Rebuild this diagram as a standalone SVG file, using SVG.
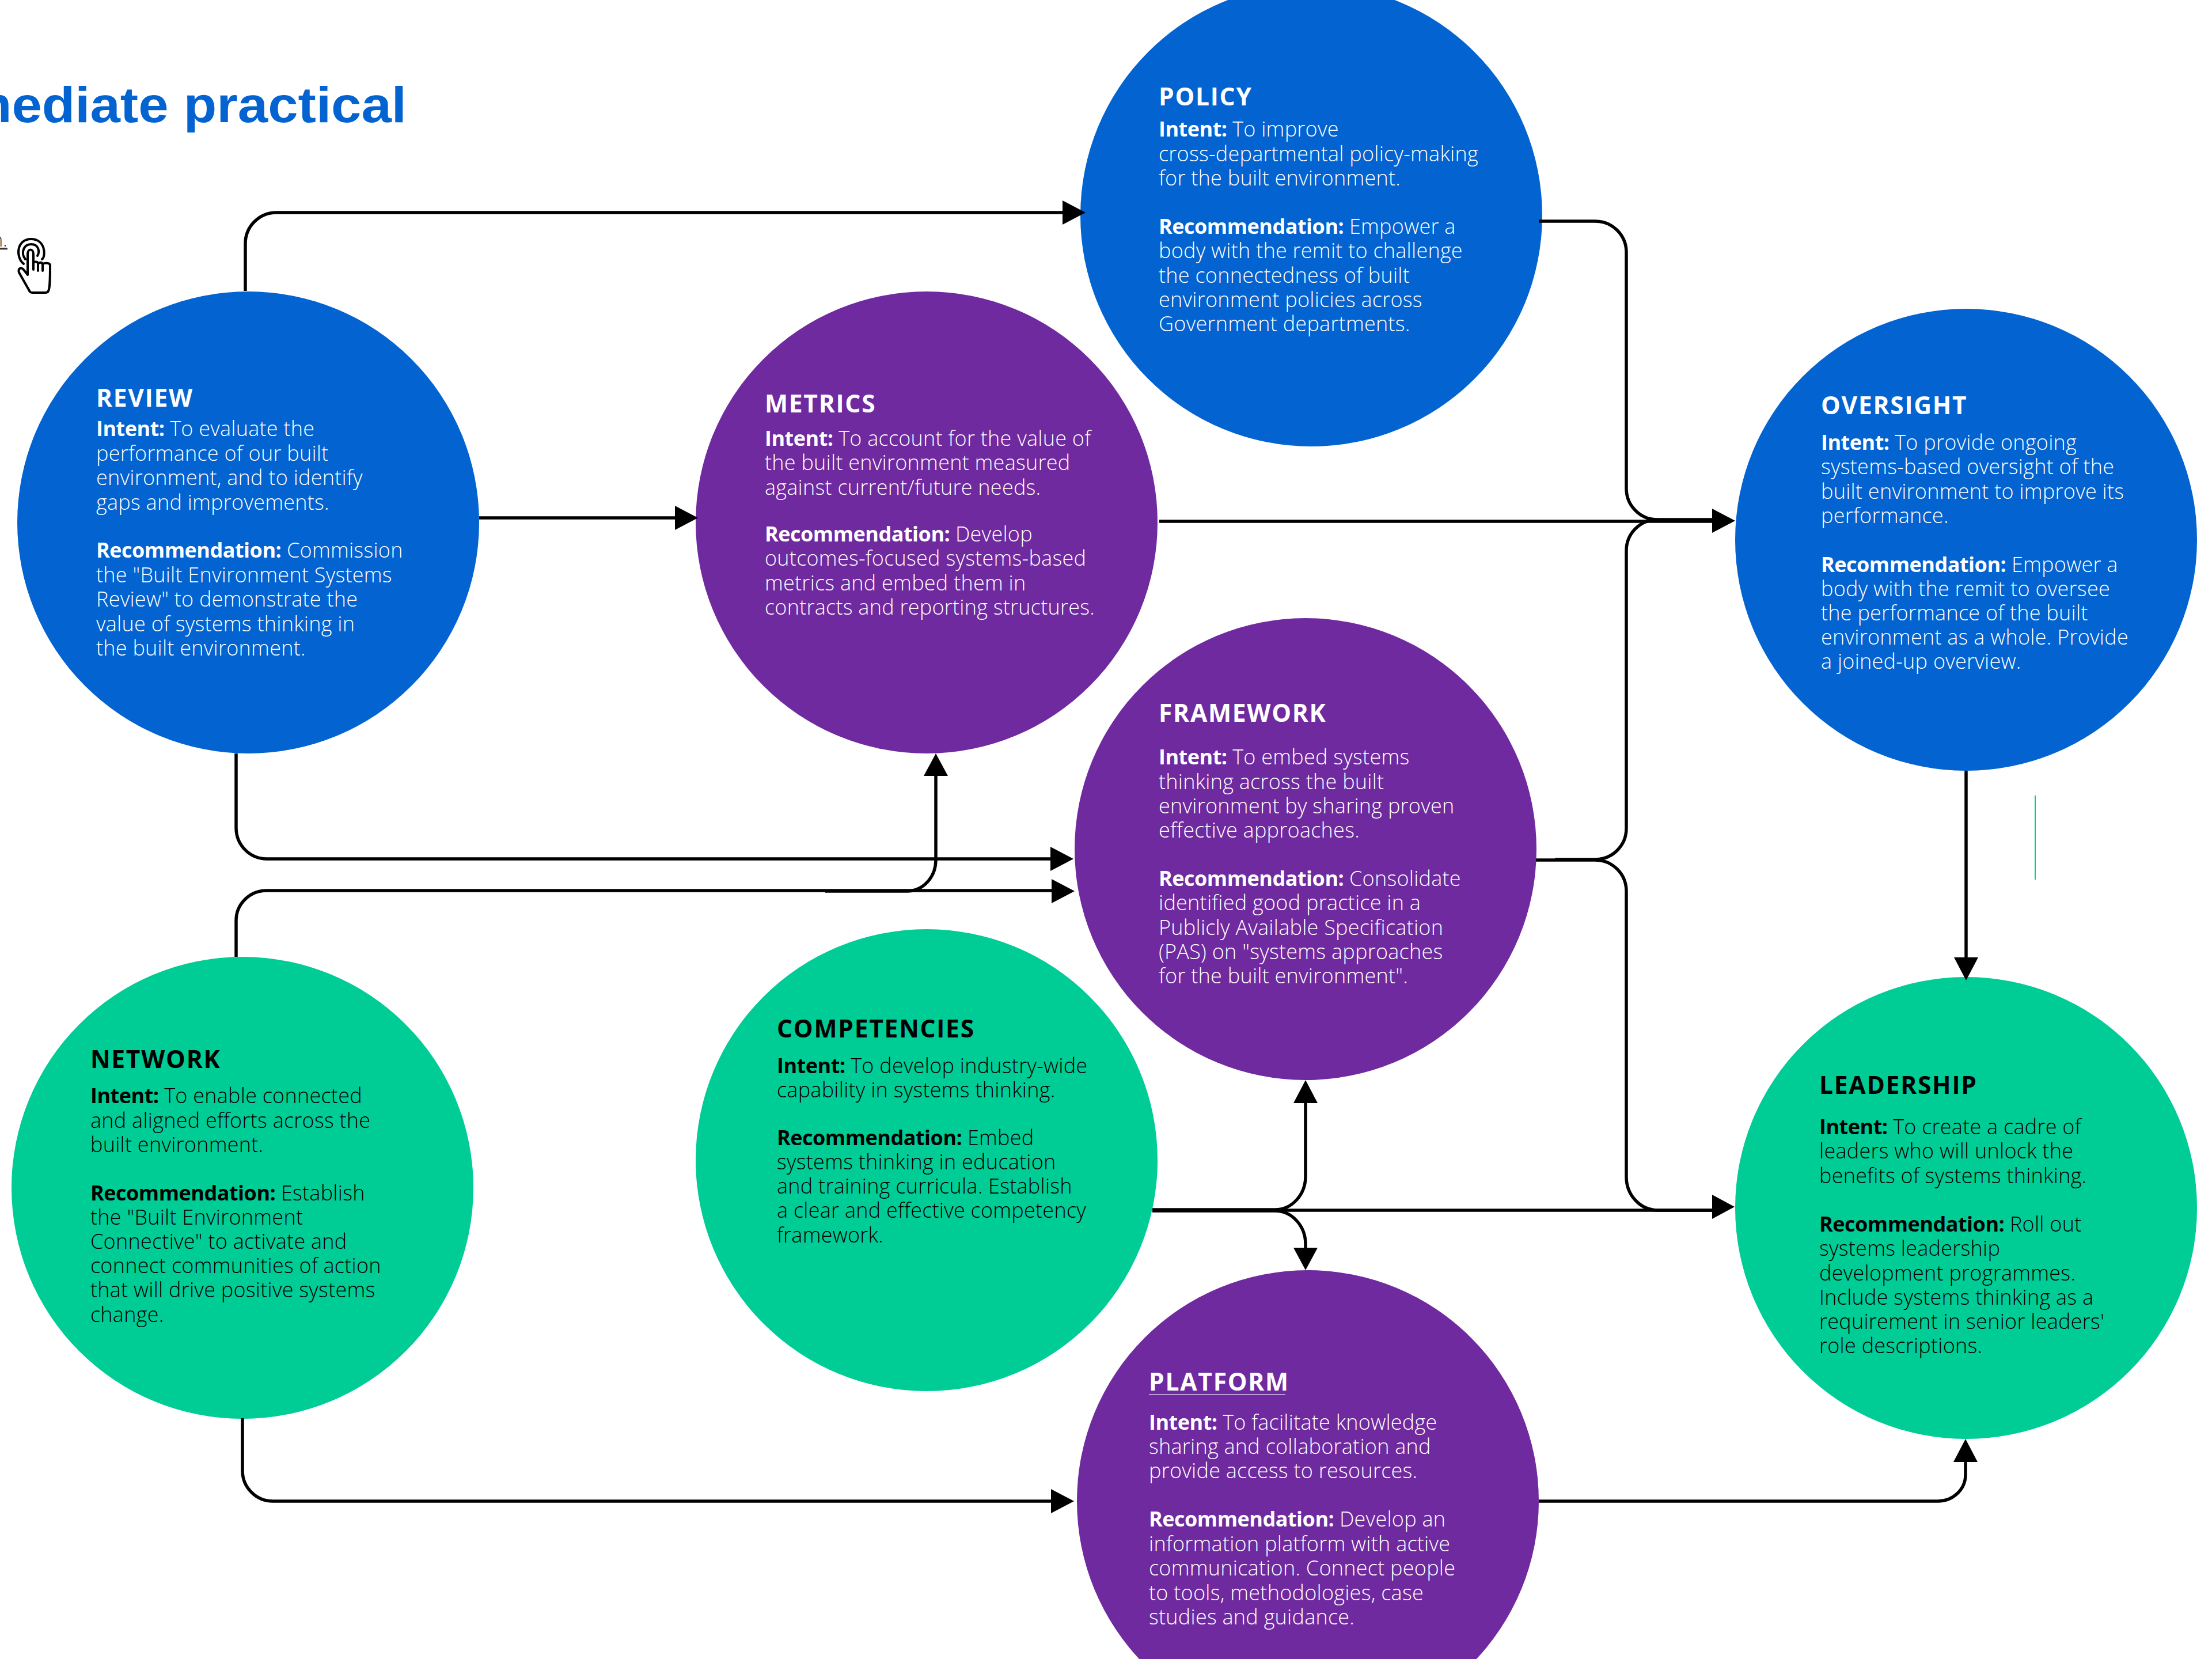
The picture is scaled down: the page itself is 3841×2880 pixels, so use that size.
<svg xmlns="http://www.w3.org/2000/svg" width="3841" height="2880" viewBox="0 0 3841 2880">
<style>
text{font-family:"Open Sans","Liberation Sans",sans-serif;font-size:36px;font-weight:300;letter-spacing:.25px}
.w{fill:#fff;transform:translateY(1px)}.k{fill:#000;transform:translateY(1px)}
.h{font-size:42.5px;font-weight:700;letter-spacing:1.75px}
.b{font-weight:700;letter-spacing:-.5px}
.c{fill:none;stroke:#000;stroke-width:5.5}
.ah{fill:#000}
</style>
<rect width="3841" height="2880" fill="#fff"/>
<text transform="translate(706 212) scale(1.07 1)" text-anchor="end" style="font-family:'Liberation Sans',sans-serif;font-size:88px;font-weight:700;letter-spacing:0" fill="#0263D1">mediate practical</text>
<text x="13" y="428" text-anchor="end" fill="#333" text-decoration="underline" style="font-size:33px;letter-spacing:0">n.</text>
<g id="icon" fill="none" stroke="#000" stroke-linecap="round" stroke-linejoin="round" stroke-width="4">
<path d="M41 458C27 447 28 415 54 415C79 415 80 445 73 450"/>
<path d="M44 450C36 440 40 424 54 424C68 424 69 438 65 444"/>
<path d="M48 477V441C48 431 58 431 58 441V468M58 456C62 453 66 455 66 458V470M66 458C70 454 74 456 74 460V470M74 458C78 456 86 456 87 460C87 480 87 500 84 505C83 508 81 508 79 508H56C53 508 52 507 50 503L33 473C31 466 36 464 40 467L48 477"/>
</g>
<line x1="3534" y1="1381" x2="3534" y2="1527" stroke="#00CC96" stroke-width="2"/>
<g id="review"><circle cx="431" cy="907" r="401" fill="#0263D1"/>
<text class="w h" x="167" y="705">REVIEW</text>
<text class="w" x="167" y="756"><tspan class="b">Intent:</tspan> To evaluate the</text>
<text class="w" x="167" y="799">performance of our built</text>
<text class="w" x="167" y="841">environment, and to identify</text>
<text class="w" x="167" y="884">gaps and improvements.</text>
<text class="w" x="167" y="967"><tspan class="b">Recommendation:</tspan> Commission</text>
<text class="w" x="167" y="1010">the "Built Environment Systems</text>
<text class="w" x="167" y="1052">Review" to demonstrate the</text>
<text class="w" x="167" y="1095">value of systems thinking in</text>
<text class="w" x="167" y="1137">the built environment.</text>
</g>
<g id="metrics"><circle cx="1609" cy="907" r="401" fill="#702A9F"/>
<text class="w h" x="1328" y="715">METRICS</text>
<text class="w" x="1328" y="773"><tspan class="b">Intent:</tspan> To account for the value of</text>
<text class="w" x="1328" y="815">the built environment measured</text>
<text class="w" x="1328" y="858">against current/future needs.</text>
<text class="w" x="1328" y="939"><tspan class="b">Recommendation:</tspan> Develop</text>
<text class="w" x="1328" y="981">outcomes-focused systems-based</text>
<text class="w" x="1328" y="1024">metrics and embed them in</text>
<text class="w" x="1328" y="1066">contracts and reporting structures.</text>
</g>
<g id="policy"><circle cx="2277" cy="374" r="401" fill="#0263D1"/>
<text class="w h" x="2012" y="182">POLICY</text>
<text class="w" x="2012" y="236"><tspan class="b">Intent:</tspan> To improve</text>
<text class="w" x="2012" y="279">cross-departmental policy-making</text>
<text class="w" x="2012" y="321">for the built environment.</text>
<text class="w" x="2012" y="405"><tspan class="b">Recommendation:</tspan> Empower a</text>
<text class="w" x="2012" y="447">body with the remit to challenge</text>
<text class="w" x="2012" y="490">the connectedness of built</text>
<text class="w" x="2012" y="532">environment policies across</text>
<text class="w" x="2012" y="574">Government departments.</text>
</g>
<g id="oversight"><circle cx="3414" cy="937" r="401" fill="#0263D1"/>
<text class="w h" x="3162" y="718">OVERSIGHT</text>
<text class="w" x="3162" y="780"><tspan class="b">Intent:</tspan> To provide ongoing</text>
<text class="w" x="3162" y="822">systems-based oversight of the</text>
<text class="w" x="3162" y="865">built environment to improve its</text>
<text class="w" x="3162" y="907">performance.</text>
<text class="w" x="3162" y="992"><tspan class="b">Recommendation:</tspan> Empower a</text>
<text class="w" x="3162" y="1034">body with the remit to oversee</text>
<text class="w" x="3162" y="1076">the performance of the built</text>
<text class="w" x="3162" y="1118">environment as a whole. Provide</text>
<text class="w" x="3162" y="1160">a joined-up overview.</text>
</g>
<g id="framework"><circle cx="2267" cy="1474" r="401" fill="#702A9F"/>
<text class="w h" x="2012" y="1252">FRAMEWORK</text>
<text class="w" x="2012" y="1326"><tspan class="b">Intent:</tspan> To embed systems</text>
<text class="w" x="2012" y="1369">thinking across the built</text>
<text class="w" x="2012" y="1411">environment by sharing proven</text>
<text class="w" x="2012" y="1453">effective approaches.</text>
<text class="w" x="2012" y="1537"><tspan class="b">Recommendation:</tspan> Consolidate</text>
<text class="w" x="2012" y="1579">identified good practice in a</text>
<text class="w" x="2012" y="1622">Publicly Available Specification</text>
<text class="w" x="2012" y="1664">(PAS) on "systems approaches</text>
<text class="w" x="2012" y="1706">for the built environment".</text>
</g>
<g id="competencies"><circle cx="1609" cy="2014" r="401" fill="#00CC96"/>
<text class="k h" x="1349" y="1800">COMPETENCIES</text>
<text class="k" x="1349" y="1862"><tspan class="b">Intent:</tspan> To develop industry-wide</text>
<text class="k" x="1349" y="1904">capability in systems thinking.</text>
<text class="k" x="1349" y="1987"><tspan class="b">Recommendation:</tspan> Embed</text>
<text class="k" x="1349" y="2029">systems thinking in education</text>
<text class="k" x="1349" y="2071">and training curricula. Establish</text>
<text class="k" x="1349" y="2113">a clear and effective competency</text>
<text class="k" x="1349" y="2156">framework.</text>
</g>
<g id="network"><circle cx="421" cy="2062" r="401" fill="#00CC96"/>
<text class="k h" x="157" y="1853">NETWORK</text>
<text class="k" x="157" y="1914"><tspan class="b">Intent:</tspan> To enable connected</text>
<text class="k" x="157" y="1957">and aligned efforts across the</text>
<text class="k" x="157" y="1999">built environment.</text>
<text class="k" x="157" y="2083"><tspan class="b">Recommendation:</tspan> Establish</text>
<text class="k" x="157" y="2125">the "Built Environment</text>
<text class="k" x="157" y="2167">Connective" to activate and</text>
<text class="k" x="157" y="2209">connect communities of action</text>
<text class="k" x="157" y="2251">that will drive positive systems</text>
<text class="k" x="157" y="2294">change.</text>
</g>
<g id="leadership"><circle cx="3414" cy="2097" r="401" fill="#00CC96"/>
<text class="k h" x="3159" y="1898">LEADERSHIP</text>
<text class="k" x="3159" y="1968"><tspan class="b">Intent:</tspan> To create a cadre of</text>
<text class="k" x="3159" y="2010">leaders who will unlock the</text>
<text class="k" x="3159" y="2053">benefits of systems thinking.</text>
<text class="k" x="3159" y="2137"><tspan class="b">Recommendation:</tspan> Roll out</text>
<text class="k" x="3159" y="2179">systems leadership</text>
<text class="k" x="3159" y="2222">development programmes.</text>
<text class="k" x="3159" y="2264">Include systems thinking as a</text>
<text class="k" x="3159" y="2306">requirement in senior leaders'</text>
<text class="k" x="3159" y="2348">role descriptions.</text>
</g>
<g id="platform"><circle cx="2271" cy="2606" r="401" fill="#702A9F"/>
<text class="w h" x="1995" y="2413">PLATFORM</text>
<rect x="1995" y="2420" width="237" height="2" fill="#B79BD6"/>
<text class="w" x="1995" y="2481"><tspan class="b">Intent:</tspan> To facilitate knowledge</text>
<text class="w" x="1995" y="2523">sharing and collaboration and</text>
<text class="w" x="1995" y="2565">provide access to resources.</text>
<text class="w" x="1995" y="2649"><tspan class="b">Recommendation:</tspan> Develop an</text>
<text class="w" x="1995" y="2692">information platform with active</text>
<text class="w" x="1995" y="2734">communication. Connect people</text>
<text class="w" x="1995" y="2777">to tools, methodologies, case</text>
<text class="w" x="1995" y="2819">studies and guidance.</text>
</g>
<g id="connectors">
<path class="c" d="M426 505V423A54 54 0 0 1 480 369H1845"/><path class="ah" d="M1885 369L1845 348V390Z"/>
<path class="c" d="M832 899H1172"/><path class="ah" d="M1212 899L1172 878V920Z"/>
<path class="c" d="M2013 905H2973"/><path class="ah" d="M3013 904L2973 883V925Z"/>
<path class="c" d="M2672 384H2770A54 54 0 0 1 2824 438V848A54 54 0 0 0 2878 902H2973"/>
<path class="c" d="M2700 1492H2770A54 54 0 0 0 2824 1438V956A54 54 0 0 1 2878 902"/>
<path class="c" d="M2667 1493H2770A54 54 0 0 1 2824 1547V2043A55 58 0 0 0 2879 2101H2973"/>
<path class="c" d="M2001 2101H2973"/><path class="ah" d="M3012 2095L2973 2074V2116Z"/>
<path class="c" d="M2001 2100H2214A53 58 0 0 0 2267 2042V1915"/><path class="ah" d="M2267 1875L2246 1915H2288Z"/>
<path class="c" d="M2001 2102H2214A53 58 0 0 1 2267 2160V2166"/><path class="ah" d="M2267 2205L2246 2166H2288Z"/>
<path class="c" d="M410 1308V1437A53 54 0 0 0 463 1491H1824"/><path class="ah" d="M1864 1491L1824 1470V1512Z"/>
<path class="c" d="M410 1661V1598A53 52 0 0 1 463 1546H1826"/><path class="ah" d="M1866 1547L1826 1526V1568Z"/>
<path class="c" d="M1433 1547H1575A50 54 0 0 0 1625 1493V1347"/><path class="ah" d="M1625 1308L1604 1347H1646Z"/>
<path class="c" d="M3414 1338V1662"/><path class="ah" d="M3414 1702L3393 1662H3435Z"/>
<path class="c" d="M421 2462V2553A53 53 0 0 0 474 2606H1825"/><path class="ah" d="M1865 2606L1825 2585V2627Z"/>
<path class="c" d="M2672 2606H3365A48 46 0 0 0 3413 2560V2538"/><path class="ah" d="M3413 2498L3392 2538H3434Z"/>
</g>
</svg>
